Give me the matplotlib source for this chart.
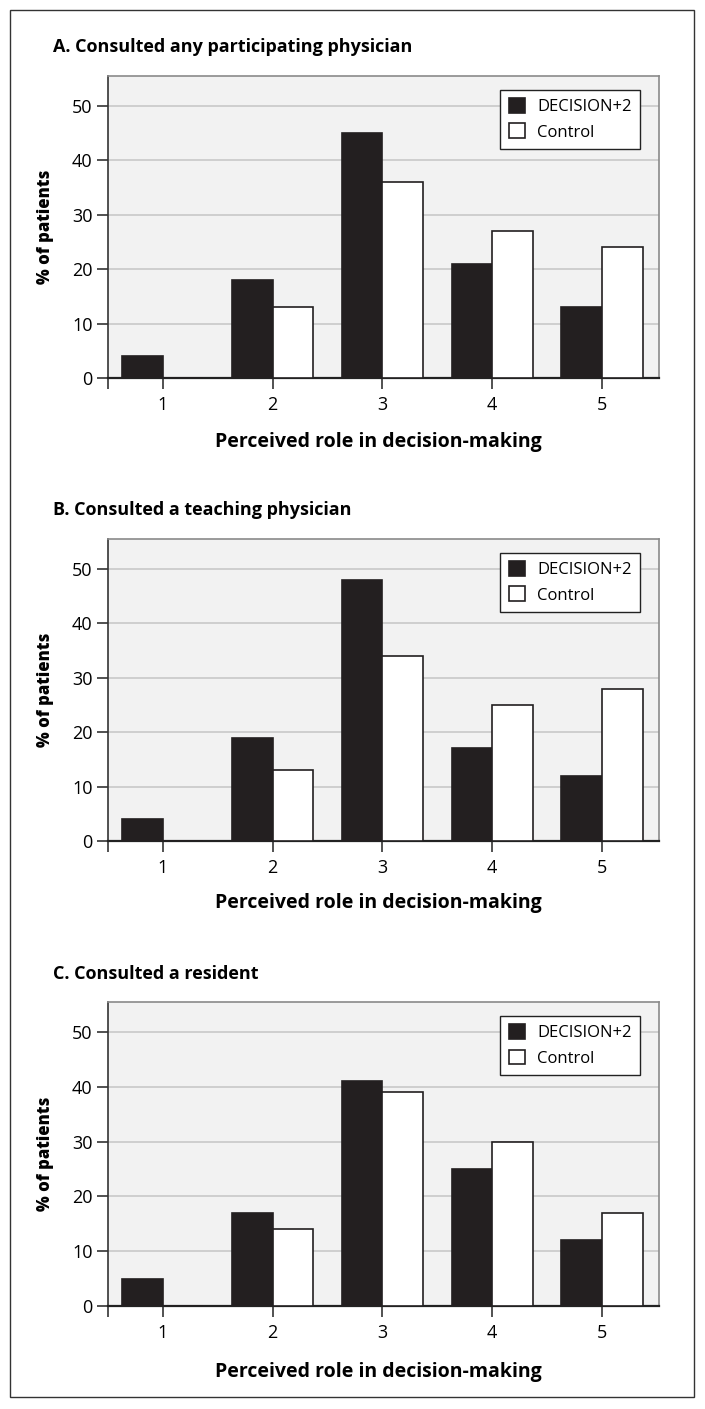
import matplotlib
matplotlib.use("Agg")
import matplotlib.pyplot as plt
from matplotlib.patches import Rectangle
import numpy as np

plt.rcParams['font.family'] = ['Open Sans', 'DejaVu Sans']

roles = [1, 2, 3, 4, 5]
titles = ["A. Consulted any participating physician",
          "B. Consulted a teaching physician",
          "C. Consulted a resident"]
decision_a = [4, 18, 45, 21, 13]
control_a = [0, 13, 36, 27, 24]
decision_b = [4, 19, 48, 17, 12]
control_b = [0, 13, 34, 25, 28]
decision_c = [5, 17, 41, 25, 12]
control_c = [0, 14, 39, 30, 17]
yticks = [0, 10, 20, 30, 40, 50]
series_names = ["DECISION+2", "Control"]
xlabel = "Perceived role in decision-making"
ylabel = "% of patients"

W, H = 705, 1409
fig = plt.figure(figsize=(W / 100, H / 100), dpi=100)

# outer frame
fig.patches.append(Rectangle((10 / W, 1 - 1397 / H), 684 / W, 1387 / H,
                             transform=fig.transFigure, fill=False,
                             edgecolor='#333333', linewidth=1.0))

# pixel layout: (top of box, y of zero line, title y, xlabel y)
panels = [
    (decision_a, control_a, 76, 378, 47, 442),
    (decision_b, control_b, 539, 841, 510, 903),
    (decision_c, control_c, 1002, 1306, 974, 1372),
]

black = '#231f20'
bw = 0.37
x = np.array(roles)

for i, (dec, ctl, top, zero, ty, ly) in enumerate(panels):
    ax = fig.add_axes([108 / W, 1 - zero / H, 551 / W, (zero - top) / H])
    ax.set_facecolor('#f2f2f2')
    ax.bar(x - bw / 2, dec, bw, color=black, edgecolor=black, linewidth=1.2,
           label=series_names[0], zorder=3)
    ax.bar(x + bw / 2, ctl, bw, color='white', edgecolor=black, linewidth=1.2,
           label=series_names[1], zorder=3)
    ax.set_xlim(0.5, 5.52)
    ax.set_ylim(0, 55.5)
    ax.set_yticks(yticks)
    ax.yaxis.grid(True, color='#c8c8c8', linewidth=1.2, zorder=0)
    ax.set_axisbelow(True)
    ax.set_xticks([0.5] + roles)
    ax.set_xticklabels([''] + [str(r) for r in roles])
    ax.tick_params(axis='x', length=8, width=1.2, color='#333333',
                   labelsize=13, pad=5)
    ax.tick_params(axis='y', length=8, width=1.2, color='#333333',
                   labelsize=13, pad=3)
    for side in ['top', 'right']:
        ax.spines[side].set_color('#8a8a8a')
        ax.spines[side].set_linewidth(1.2)
    ax.spines['left'].set_color('#333333')
    ax.spines['bottom'].set_color('#222222')
    ax.spines['left'].set_linewidth(1.2)
    ax.spines['bottom'].set_linewidth(1.6)
    leg = ax.legend(loc='upper right', bbox_to_anchor=(0.965, 0.955),
                    fontsize=12, frameon=True, fancybox=False,
                    handlelength=1.0, handleheight=1.0, handletextpad=0.7,
                    borderpad=0.5, labelspacing=0.5, borderaxespad=0)
    leg.get_frame().set_edgecolor('#222222')
    leg.get_frame().set_linewidth(1.0)
    leg.get_frame().set_facecolor('white')
    leg.get_frame().set_alpha(1)

    fig.text(53 / W, 1 - ty / H, titles[i], fontsize=13, fontweight='bold',
             ha='left', va='center')
    fig.text(378 / W, 1 - ly / H, xlabel, fontsize=14, fontweight='bold',
             ha='center', va='center')
    fig.text(45 / W, 1 - (top + zero) / 2 / H, ylabel, fontsize=12,
             fontweight='heavy', rotation=90, ha='center', va='center')

fig.savefig("out.png", dpi=100)
